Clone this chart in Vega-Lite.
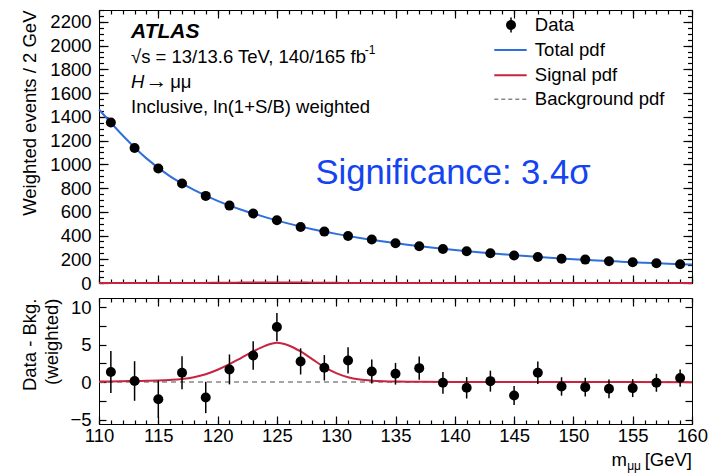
{
  "$schema": "https://vega.github.io/schema/vega-lite/v6.json",
  "padding": {"left": 20, "top": 8, "right": 12, "bottom": 5},
  "spacing": 3,
  "config": {
    "font": "Liberation Sans",
    "view": {"stroke": "black", "strokeWidth": 1},
    "axis": {"grid": false, "domain": false, "ticks": true, "tickColor": "black", "tickWidth": 1.2, "tickOpacity": 1, "zindex": 1, "labelColor": "black", "titleColor": "black", "labelFontSize": 18.5, "titleFontSize": 18.5, "titleFontWeight": "normal", "labelFlush": false, "labelOverlap": false, "labelBound": false, "format": "d"}
  },
  "datasets": {
    "data": [
      {"m": 111, "events": 1352, "diff": 1.35, "err": 2.8},
      {"m": 113, "events": 1138, "diff": 0.15, "err": 2.65},
      {"m": 115, "events": 965, "diff": -2.3, "err": 2.5},
      {"m": 117, "events": 838, "diff": 1.25, "err": 2.2},
      {"m": 119, "events": 734, "diff": -2.05, "err": 2.1},
      {"m": 121, "events": 652, "diff": 1.7, "err": 2.0},
      {"m": 123, "events": 585, "diff": 3.57, "err": 1.9},
      {"m": 125, "events": 529, "diff": 7.36, "err": 1.9},
      {"m": 127, "events": 472, "diff": 2.77, "err": 1.75},
      {"m": 129, "events": 433, "diff": 1.92, "err": 1.7},
      {"m": 131, "events": 396, "diff": 2.9, "err": 1.75},
      {"m": 133, "events": 366, "diff": 1.43, "err": 1.6},
      {"m": 135, "events": 335, "diff": 1.12, "err": 1.45},
      {"m": 137, "events": 309, "diff": 1.87, "err": 1.55},
      {"m": 139, "events": 287, "diff": -0.09, "err": 1.45},
      {"m": 141, "events": 267, "diff": -0.76, "err": 1.43},
      {"m": 143, "events": 250, "diff": 0.13, "err": 1.4},
      {"m": 145, "events": 231, "diff": -1.78, "err": 1.27},
      {"m": 147, "events": 219, "diff": 1.25, "err": 1.5},
      {"m": 149, "events": 205, "diff": -0.58, "err": 1.23},
      {"m": 151, "events": 197, "diff": -0.67, "err": 1.25},
      {"m": 153, "events": 183, "diff": -0.89, "err": 1.25},
      {"m": 155, "events": 175, "diff": -0.8, "err": 1.2},
      {"m": 157, "events": 166, "diff": -0.09, "err": 1.2},
      {"m": 159, "events": 158, "diff": 0.54, "err": 1.15}
    ],
    "total": [
      {"m": 110, "v": 1462}, {"m": 112, "v": 1243}, {"m": 114, "v": 1050}, {"m": 116, "v": 898},
      {"m": 118, "v": 785}, {"m": 120, "v": 692}, {"m": 122, "v": 617}, {"m": 124, "v": 555},
      {"m": 126, "v": 500}, {"m": 128, "v": 453}, {"m": 130, "v": 414}, {"m": 132, "v": 380},
      {"m": 134, "v": 350}, {"m": 136, "v": 323}, {"m": 138, "v": 299}, {"m": 140, "v": 278},
      {"m": 142, "v": 259}, {"m": 144, "v": 242}, {"m": 146, "v": 227}, {"m": 148, "v": 213},
      {"m": 150, "v": 201}, {"m": 152, "v": 190}, {"m": 154, "v": 180}, {"m": 156, "v": 171},
      {"m": 158, "v": 163}, {"m": 160, "v": 155}
    ],
    "signal": [
      {"m": 110, "s": 0.1}, {"m": 111, "s": 0.1}, {"m": 112, "s": 0.12}, {"m": 113, "s": 0.15},
      {"m": 114, "s": 0.18}, {"m": 115, "s": 0.22}, {"m": 116, "s": 0.3}, {"m": 117, "s": 0.42},
      {"m": 118, "s": 0.65}, {"m": 119, "s": 1.05}, {"m": 120, "s": 1.65}, {"m": 121, "s": 2.4},
      {"m": 122, "s": 3.25}, {"m": 123, "s": 4.1}, {"m": 124, "s": 4.85}, {"m": 125, "s": 5.25},
      {"m": 126, "s": 4.9}, {"m": 127, "s": 4.1}, {"m": 128, "s": 3.05}, {"m": 129, "s": 2.0},
      {"m": 130, "s": 1.2}, {"m": 131, "s": 0.65}, {"m": 132, "s": 0.35}, {"m": 133, "s": 0.2},
      {"m": 134, "s": 0.12}, {"m": 135, "s": 0.08}, {"m": 136, "s": 0.06}, {"m": 137, "s": 0.05},
      {"m": 140, "s": 0.03}, {"m": 145, "s": 0.02}, {"m": 150, "s": 0.01}, {"m": 160, "s": 0.0}
    ],
    "one": [{}]
  },
  "vconcat": [
    {
      "width": 593,
      "height": 273,
      "layer": [
        {
          "data": {"name": "total"},
          "mark": {"type": "line", "color": "#2f6fdc", "strokeWidth": 2, "interpolate": "monotone"},
          "encoding": {
            "x": {"field": "m", "type": "quantitative", "scale": {"domain": [110, 160], "nice": false, "zero": false},
                  "axis": {"orient": "bottom", "values": [110, 115, 120, 125, 130, 135, 140, 145, 150, 155, 160], "labels": false, "offset": -8, "tickSize": 8, "title": null}},
            "y": {"field": "v", "type": "quantitative", "scale": {"domain": [0, 2300], "nice": false},
                  "axis": {"orient": "left", "values": [0, 200, 400, 600, 800, 1000, 1200, 1400, 1600, 1800, 2000, 2200], "offset": -9, "tickSize": 9, "labelPadding": 8, "title": "Weighted events / 2 GeV", "titleAnchor": "end", "titlePadding": 10}}
          }
        },
        {
          "data": {"name": "signal"},
          "mark": {"type": "line", "color": "#c8233f", "strokeWidth": 2, "interpolate": "monotone"},
          "encoding": {
            "x": {"field": "m", "type": "quantitative",
                  "axis": {"orient": "bottom", "values": [110,111,112,113,114,115,116,117,118,119,120,121,122,123,124,125,126,127,128,129,130,131,132,133,134,135,136,137,138,139,140,141,142,143,144,145,146,147,148,149,150,151,152,153,154,155,156,157,158,159,160], "labels": false, "offset": -4, "tickSize": 4, "title": null}},
            "y": {"field": "s", "type": "quantitative",
                  "axis": {"orient": "left", "values": [0,50,100,150,200,250,300,350,400,450,500,550,600,650,700,750,800,850,900,950,1000,1050,1100,1150,1200,1250,1300,1350,1400,1450,1500,1550,1600,1650,1700,1750,1800,1850,1900,1950,2000,2050,2100,2150,2200,2250,2300], "labels": false, "offset": -4.5, "tickSize": 4.5, "title": null}}
          }
        },
        {
          "data": {"name": "data"},
          "mark": {"type": "point", "filled": true, "color": "black", "size": 100, "opacity": 1},
          "encoding": {
            "x": {"field": "m", "type": "quantitative",
                  "axis": {"orient": "top", "values": [110, 115, 120, 125, 130, 135, 140, 145, 150, 155, 160], "labels": false, "offset": -8, "tickSize": 8, "title": null}},
            "y": {"field": "events", "type": "quantitative",
                  "axis": {"orient": "right", "values": [0, 200, 400, 600, 800, 1000, 1200, 1400, 1600, 1800, 2000, 2200], "labels": false, "offset": -9, "tickSize": 9, "title": null}}
          }
        },
        {
          "data": {"name": "one"},
          "mark": {"type": "rule", "color": "black", "strokeWidth": 1.5},
          "encoding": {
            "x": {"datum": 144.74, "type": "quantitative",
                  "axis": {"orient": "top", "values": [110,111,112,113,114,115,116,117,118,119,120,121,122,123,124,125,126,127,128,129,130,131,132,133,134,135,136,137,138,139,140,141,142,143,144,145,146,147,148,149,150,151,152,153,154,155,156,157,158,159,160], "labels": false, "offset": -4, "tickSize": 4, "title": null}},
            "y": {"datum": 2110, "type": "quantitative",
                  "axis": {"orient": "right", "values": [0,50,100,150,200,250,300,350,400,450,500,550,600,650,700,750,800,850,900,950,1000,1050,1100,1150,1200,1250,1300,1350,1400,1450,1500,1550,1600,1650,1700,1750,1800,1850,1900,1950,2000,2050,2100,2150,2200,2250,2300], "labels": false, "offset": -4.5, "tickSize": 4.5, "title": null}},
            "y2": {"datum": 2236}
          }
        },
        {
          "data": {"name": "one"},
          "mark": {"type": "point", "filled": true, "color": "black", "size": 100, "opacity": 1},
          "encoding": {
            "x": {"datum": 144.74, "type": "quantitative", "axis": null},
            "y": {"datum": 2173, "type": "quantitative", "axis": null}
          }
        },
        {
          "data": {"name": "one"},
          "mark": {"type": "rule", "color": "#2f6fdc", "strokeWidth": 2},
          "encoding": {
            "x": {"datum": 143.33, "type": "quantitative", "axis": null},
            "x2": {"datum": 146.06},
            "y": {"datum": 1962, "type": "quantitative", "axis": null}
          }
        },
        {
          "data": {"name": "one"},
          "mark": {"type": "rule", "color": "#c8233f", "strokeWidth": 2},
          "encoding": {
            "x": {"datum": 143.33, "type": "quantitative", "axis": null},
            "x2": {"datum": 146.06},
            "y": {"datum": 1751, "type": "quantitative", "axis": null}
          }
        },
        {
          "data": {"name": "one"},
          "mark": {"type": "rule", "color": "#888888", "strokeWidth": 1.5, "strokeDash": [4, 3]},
          "encoding": {
            "x": {"datum": 143.33, "type": "quantitative", "axis": null},
            "x2": {"datum": 146.06},
            "y": {"datum": 1549, "type": "quantitative", "axis": null}
          }
        },
        {
          "data": {"name": "one"},
          "mark": {"type": "text", "text": "Data", "align": "left", "baseline": "middle", "fontSize": 18.5, "color": "black"},
          "encoding": {"x": {"datum": 146.75, "type": "quantitative", "axis": null}, "y": {"datum": 2173, "type": "quantitative", "axis": null}}
        },
        {
          "data": {"name": "one"},
          "mark": {"type": "text", "text": "Total pdf", "align": "left", "baseline": "middle", "fontSize": 18.5, "color": "black"},
          "encoding": {"x": {"datum": 146.75, "type": "quantitative", "axis": null}, "y": {"datum": 1962, "type": "quantitative", "axis": null}}
        },
        {
          "data": {"name": "one"},
          "mark": {"type": "text", "text": "Signal pdf", "align": "left", "baseline": "middle", "fontSize": 18.5, "color": "black"},
          "encoding": {"x": {"datum": 146.75, "type": "quantitative", "axis": null}, "y": {"datum": 1751, "type": "quantitative", "axis": null}}
        },
        {
          "data": {"name": "one"},
          "mark": {"type": "text", "text": "Background pdf", "align": "left", "baseline": "middle", "fontSize": 18.5, "color": "black"},
          "encoding": {"x": {"datum": 146.75, "type": "quantitative", "axis": null}, "y": {"datum": 1549, "type": "quantitative", "axis": null}}
        },
        {
          "data": {"name": "one"},
          "mark": {"type": "text", "text": "ATLAS", "align": "left", "baseline": "middle", "fontSize": 21, "fontWeight": "bold", "fontStyle": "italic", "color": "black"},
          "encoding": {"x": {"datum": 112.7, "type": "quantitative", "axis": null}, "y": {"datum": 2116, "type": "quantitative", "axis": null}}
        },
        {
          "data": {"name": "one"},
          "mark": {"type": "text", "text": "√s = 13/13.6 TeV, 140/165 fb", "align": "left", "baseline": "middle", "fontSize": 18.5, "color": "black"},
          "encoding": {"x": {"datum": 112.7, "type": "quantitative", "axis": null}, "y": {"datum": 1906, "type": "quantitative", "axis": null}}
        },
        {
          "data": {"name": "one"},
          "mark": {"type": "text", "text": "-1", "align": "left", "baseline": "middle", "fontSize": 12, "color": "black"},
          "encoding": {"x": {"datum": 132.4, "type": "quantitative", "axis": null}, "y": {"datum": 1962, "type": "quantitative", "axis": null}}
        },
        {
          "data": {"name": "one"},
          "mark": {"type": "text", "text": "H", "align": "left", "baseline": "middle", "fontSize": 18.5, "fontStyle": "italic", "color": "black"},
          "encoding": {"x": {"datum": 112.7, "type": "quantitative", "axis": null}, "y": {"datum": 1695, "type": "quantitative", "axis": null}}
        },
        {
          "data": {"name": "one"},
          "mark": {"type": "text", "text": "→", "align": "center", "baseline": "middle", "fontSize": 22, "color": "black"},
          "encoding": {"x": {"datum": 114.85, "type": "quantitative", "axis": null}, "y": {"datum": 1705, "type": "quantitative", "axis": null}}
        },
        {
          "data": {"name": "one"},
          "mark": {"type": "text", "text": "μμ", "align": "left", "baseline": "middle", "fontSize": 18.5, "color": "black"},
          "encoding": {"x": {"datum": 116.0, "type": "quantitative", "axis": null}, "y": {"datum": 1695, "type": "quantitative", "axis": null}}
        },
        {
          "data": {"name": "one"},
          "mark": {"type": "text", "text": "Inclusive, ln(1+S/B) weighted", "align": "left", "baseline": "middle", "fontSize": 18.5, "color": "black"},
          "encoding": {"x": {"datum": 112.7, "type": "quantitative", "axis": null}, "y": {"datum": 1484, "type": "quantitative", "axis": null}}
        },
        {
          "data": {"name": "one"},
          "mark": {"type": "text", "text": "Significance: 3.4σ", "align": "left", "baseline": "middle", "fontSize": 34.6, "color": "#1444f2"},
          "encoding": {"x": {"datum": 128.25, "type": "quantitative", "axis": null}, "y": {"datum": 922, "type": "quantitative", "axis": null}}
        }
      ],
      "resolve": {"axis": {"x": "independent", "y": "independent"}}
    },
    {
      "width": 593,
      "height": 126,
      "layer": [
        {
          "data": {"name": "one"},
          "mark": {"type": "rule", "color": "#888888", "strokeWidth": 1.5, "strokeDash": [5, 4]},
          "encoding": {
            "x": {"datum": 110, "type": "quantitative", "scale": {"domain": [110, 160], "nice": false, "zero": false},
                  "axis": {"orient": "bottom", "values": [110, 115, 120, 125, 130, 135, 140, 145, 150, 155, 160], "offset": -8, "tickSize": 8, "labelPadding": 2, "title": null}},
            "x2": {"datum": 160},
            "y": {"datum": 0, "type": "quantitative", "scale": {"domain": [-5.6, 11.25], "nice": false, "zero": false},
                  "axis": {"orient": "left", "values": [-5, -2.5, 0, 2.5, 5, 7.5, 10], "labelExpr": "datum.value % 5 == 0 ? datum.label : ''", "offset": -7, "tickSize": 7, "labelPadding": 8, "title": ["Data - Bkg.", "(weighted)"], "titleAnchor": "end", "titlePadding": 8, "titleLineHeight": 22}}
          }
        },
        {
          "data": {"name": "signal"},
          "mark": {"type": "line", "color": "#c8233f", "strokeWidth": 2, "interpolate": "monotone"},
          "encoding": {
            "x": {"field": "m", "type": "quantitative",
                  "axis": {"orient": "bottom", "values": [110,111,112,113,114,115,116,117,118,119,120,121,122,123,124,125,126,127,128,129,130,131,132,133,134,135,136,137,138,139,140,141,142,143,144,145,146,147,148,149,150,151,152,153,154,155,156,157,158,159,160], "labels": false, "offset": -4, "tickSize": 4, "title": null}},
            "y": {"field": "s", "type": "quantitative",
                  "axis": {"orient": "right", "values": [-5, -2.5, 0, 2.5, 5, 7.5, 10], "labels": false, "offset": -7, "tickSize": 7, "title": null}}
          }
        },
        {
          "data": {"name": "data"},
          "mark": {"type": "errorbar", "ticks": false, "color": "black", "thickness": 1.5, "clip": true},
          "encoding": {
            "x": {"field": "m", "type": "quantitative",
                  "axis": {"orient": "top", "values": [110, 115, 120, 125, 130, 135, 140, 145, 150, 155, 160], "labels": false, "offset": -8, "tickSize": 8, "title": null}},
            "y": {"field": "diff", "type": "quantitative", "axis": null},
            "yError": {"field": "err"}
          }
        },
        {
          "data": {"name": "data"},
          "mark": {"type": "point", "filled": true, "color": "black", "size": 100, "opacity": 1},
          "encoding": {
            "x": {"field": "m", "type": "quantitative",
                  "axis": {"orient": "top", "values": [110,111,112,113,114,115,116,117,118,119,120,121,122,123,124,125,126,127,128,129,130,131,132,133,134,135,136,137,138,139,140,141,142,143,144,145,146,147,148,149,150,151,152,153,154,155,156,157,158,159,160], "labels": false, "offset": -4, "tickSize": 4, "title": null}},
            "y": {"field": "diff", "type": "quantitative", "axis": null}
          }
        },
        {
          "data": {"name": "one"},
          "mark": {"type": "text", "text": "[GeV]", "align": "right", "baseline": "alphabetic", "fontSize": 18.5, "dy": 42, "color": "black"},
          "encoding": {"x": {"datum": 160, "type": "quantitative", "axis": null}, "y": {"datum": -5.6, "type": "quantitative", "axis": null}}
        },
        {
          "data": {"name": "one"},
          "mark": {"type": "text", "text": "μμ", "align": "right", "baseline": "alphabetic", "fontSize": 12, "dy": 46, "dx": -51, "color": "black"},
          "encoding": {"x": {"datum": 160, "type": "quantitative", "axis": null}, "y": {"datum": -5.6, "type": "quantitative", "axis": null}}
        },
        {
          "data": {"name": "one"},
          "mark": {"type": "text", "text": "m", "align": "right", "baseline": "alphabetic", "fontSize": 18.5, "dy": 42, "dx": -65, "color": "black"},
          "encoding": {"x": {"datum": 160, "type": "quantitative", "axis": null}, "y": {"datum": -5.6, "type": "quantitative", "axis": null}}
        }
      ],
      "resolve": {"axis": {"x": "independent", "y": "independent"}}
    }
  ]
}
